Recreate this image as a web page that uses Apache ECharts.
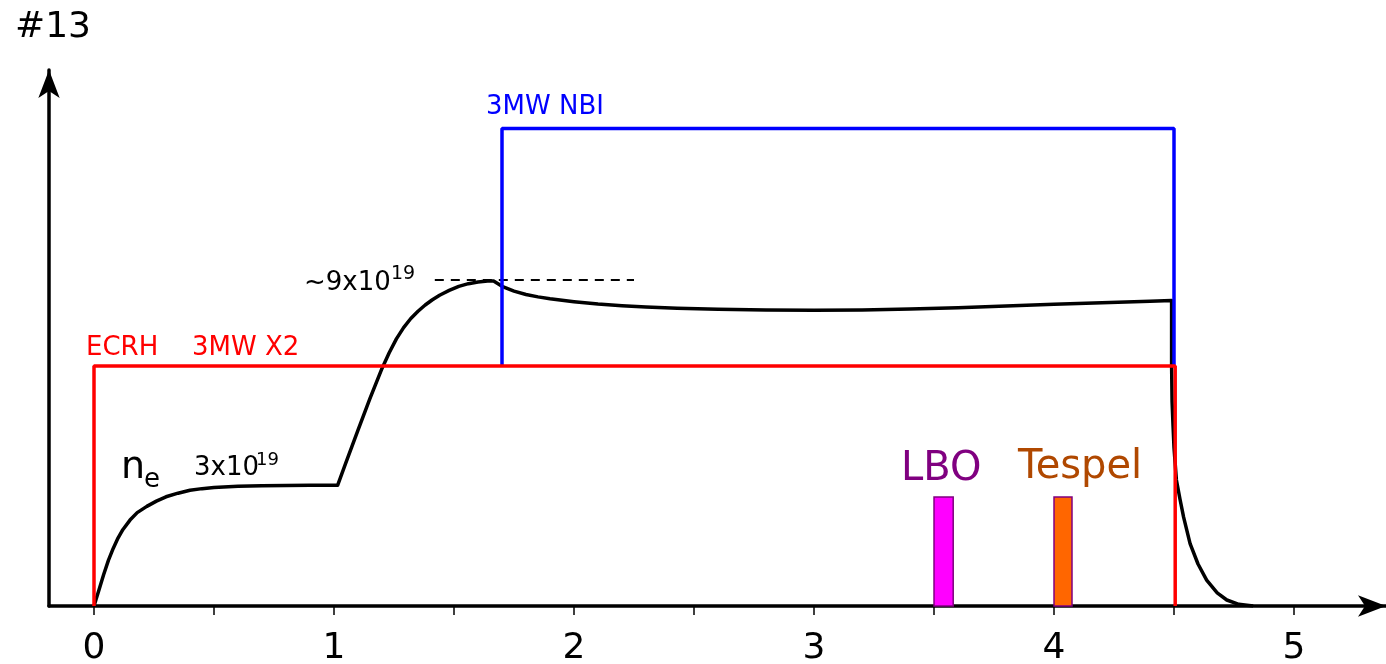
<!DOCTYPE html>
<html><head><meta charset="utf-8">
<script src="https://cdn.jsdelivr.net/npm/echarts@6/dist/echarts.min.js"></script>
<style>html,body{margin:0;padding:0;background:#fff}#c{width:1386px;height:664px}</style>
</head><body><div id="c"></div>
<script>
// electron density n_e (arbitrary units, time in s)
const neCurve = [
  [0,0],[0.02,0.065],[0.04,0.13],[0.06,0.19],[0.08,0.24],[0.10,0.283],[0.12,0.318],[0.15,0.358],
  [0.18,0.389],[0.22,0.415],[0.26,0.437],[0.30,0.455],[0.35,0.47],[0.40,0.482],[0.45,0.489],
  [0.5,0.494],[0.6,0.499],[0.7,0.501],[0.8,0.502],[0.9,0.503],[1.015,0.503],
  [1.05,0.598],[1.10,0.733],[1.15,0.865],[1.20,0.990],[1.23,1.055],[1.26,1.113],[1.29,1.160],
  [1.32,1.198],[1.35,1.228],[1.38,1.254],[1.41,1.276],[1.44,1.295],[1.48,1.315],[1.52,1.332],
  [1.56,1.343],[1.60,1.350],[1.64,1.354],[1.665,1.354],
  [1.70,1.332],[1.75,1.312],[1.80,1.298],[1.85,1.288],[1.90,1.280],[2.0,1.268],[2.1,1.258],
  [2.2,1.251],[2.3,1.246],[2.43,1.241],[2.6,1.236],[2.8,1.233],[3.0,1.232],[3.2,1.233],
  [3.4,1.237],[3.6,1.243],[3.8,1.250],[4.0,1.257],[4.2,1.264],[4.4,1.270],[4.49,1.273],
  [4.49,1.0],[4.492,0.85],[4.496,0.75],[4.50,0.66],[4.51,0.525],[4.525,0.445],[4.54,0.37],
  [4.567,0.26],[4.60,0.175],[4.636,0.108],[4.68,0.055],[4.72,0.025],[4.77,0.007],[4.83,0]
];
const ecrhPower = [[0,0],[0,1],[4.505,1],[4.505,0]];
const nbiPower = [[1.7,1],[1.7,1.99],[4.5,1.99],[4.5,1]];
const peakLevel = [[1.42,1.358],[2.25,1.358]];
const diagNames = ['LBO','Tespel'];
const diagStart = [3.5, 4.0];
const diagEnd = [3.58, 4.075];
const diagHeight = [0.454, 0.454];
const xTickValues = [0,0.5,1,1.5,2,2.5,3,3.5,4,4.5,5];
const xLabelValues = [0,1,2,3,4,5];

const diagFill = ['#ff00ff','#ff6600'];
const FONT = '"DejaVu Sans", sans-serif';
const chart = echarts.init(document.getElementById('c'), null, {renderer:'canvas'});

function txt(text, x, y, size, color){
  return {type:'text', x:x, y:y, z:100, style:{text:text, fill:color, font: size+'px '+FONT, verticalAlign:'middle', align:'left'}};
}

chart.setOption({
  animation:false,
  grid:{left:49, right:0, top:70, bottom:58, containLabel:false, outerBoundsMode:'none'},
  xAxis:{
    type:'value', min:-0.1875, max:5.3833,
    axisLine:{show:true, onZero:false, symbol:['none','arrow'], symbolSize:[16,28], lineStyle:{color:'#000', width:3.5}},
    axisTick:{show:true, inside:false, length:9, lineStyle:{color:'#000', width:1.5}, customValues:xTickValues},
    axisLabel:{show:true, margin:25, fontSize:36, fontFamily:FONT, color:'#000', customValues:xLabelValues},
    splitLine:{show:false}
  },
  yAxis:{
    type:'value', min:0, max:2.2333,
    axisLine:{show:true, onZero:false, symbol:['none','arrow'], symbolSize:[16,28], lineStyle:{color:'#000', width:3.5}},
    axisTick:{show:false}, axisLabel:{show:false}, splitLine:{show:false}
  },
  series:[
    {type:'line', name:'ne', data:neCurve, showSymbol:false, smooth:false, z:2,
     lineStyle:{color:'#000', width:3.5, join:'round'}},
    {type:'line', name:'peak', data:peakLevel, showSymbol:false, z:3,
     lineStyle:{color:'#000', width:2, type:[9,7]}},
    {type:'custom', name:'diag', z:4,
     dimensions:['x0','x1','h'], encode:{x:[0,1], y:2},
     data: diagStart.map((s,i)=>[s, diagEnd[i], diagHeight[i]]),
     renderItem:function(params, api){
       const p0 = api.coord([api.value(0), 0]);
       const p1 = api.coord([api.value(1), api.value(2)]);
       return {type:'rect', shape:{x:p0[0], y:p1[1], width:p1[0]-p0[0], height:p0[1]-p1[1]},
         style:{fill:diagFill[params.dataIndex], stroke:'#800080', lineWidth:1.5}};
     }},
    {type:'line', name:'NBI', data:nbiPower, showSymbol:false, z:5,
     lineStyle:{color:'#0000ff', width:3.5}},
    {type:'line', name:'ECRH', data:ecrhPower, showSymbol:false, z:6,
     lineStyle:{color:'#ff0000', width:3.5}}
  ],
  graphic:[
    txt('#13', 15, 28, 36, '#000'),
    txt('3MW NBI', 486, 107, 26, '#0000ff'),
    txt('ECRH', 86, 348, 26, '#ff0000'),
    txt('3MW X2', 192, 348, 26, '#ff0000'),
    txt('~9x10', 304, 283, 26, '#000'),
    txt('19', 391, 274, 19, '#000'),
    txt('n', 121, 468, 38, '#000'),
    txt('e', 144, 480, 26, '#000'),
    txt('3x10', 194, 468, 26, '#000'),
    txt('19', 256, 460, 18, '#000'),
    txt(diagNames[0], 901, 470, 40, '#800080'),
    txt(diagNames[1], 1018, 468, 40, '#b04800')
  ]
});
</script></body></html>
